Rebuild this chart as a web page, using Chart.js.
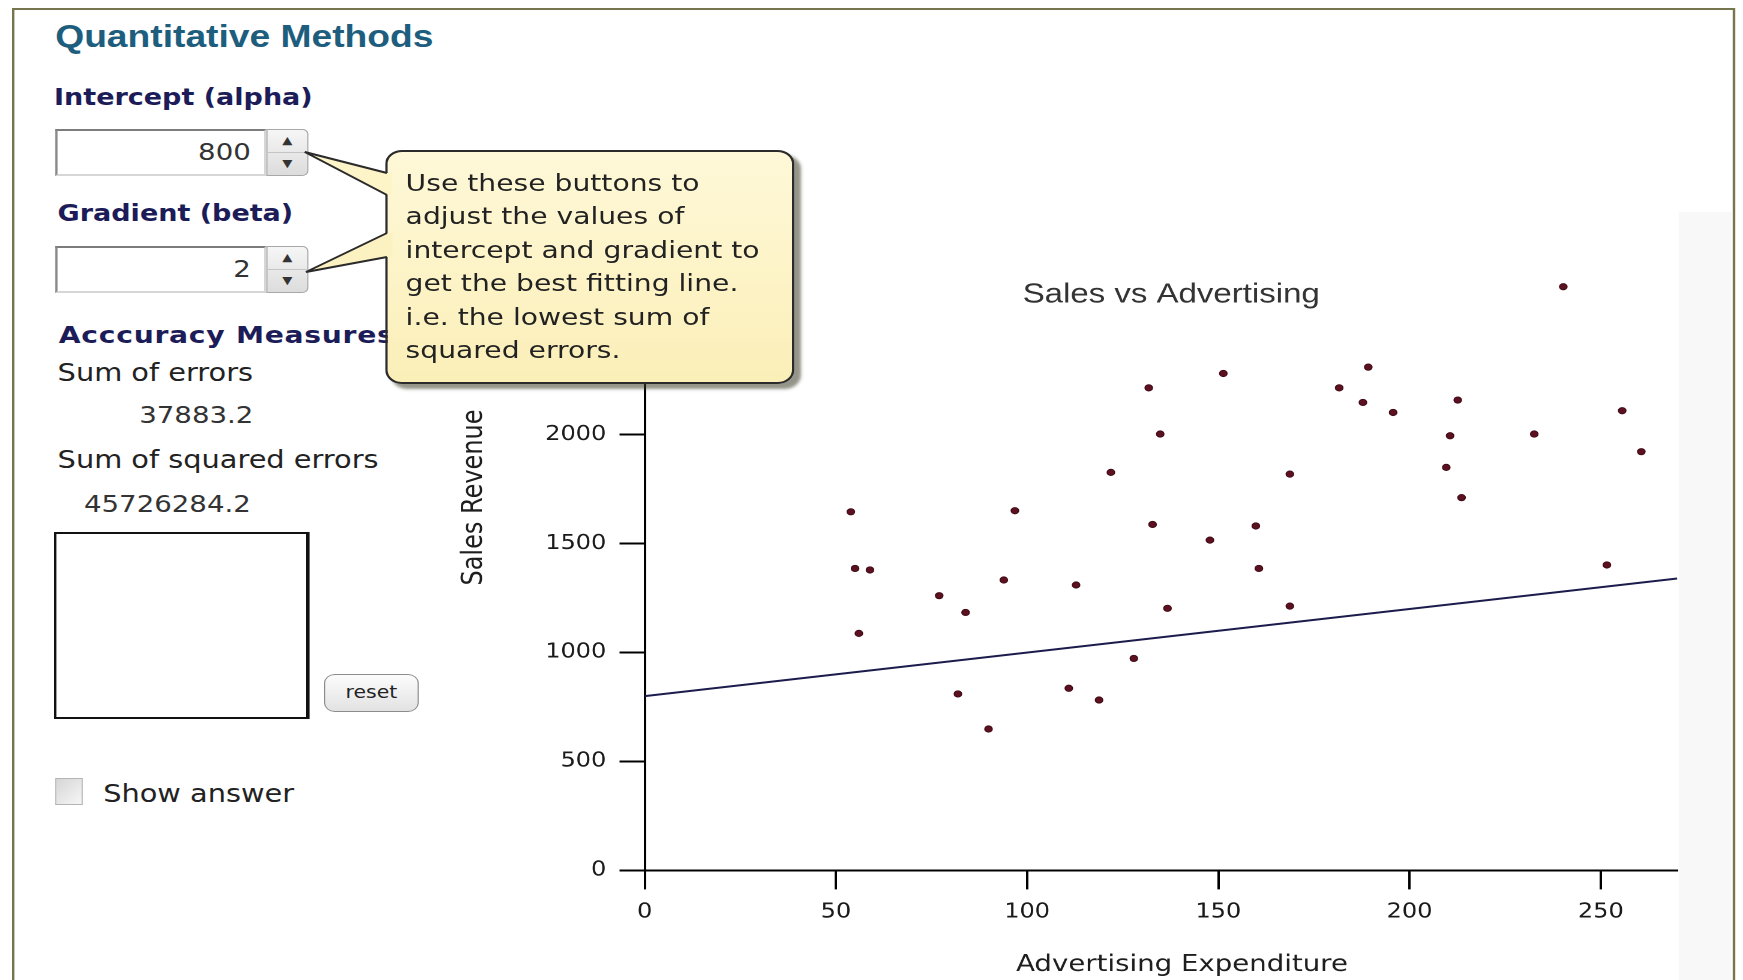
<!DOCTYPE html>
<html>
<head>
<meta charset="utf-8">
<title>Quantitative Methods - Sales vs Advertising</title>
<script src="https://cdn.jsdelivr.net/npm/chart.js@4.4.1/dist/chart.umd.min.js"></script>
<style>
  html, body { margin: 0; padding: 0; width: 1743px; height: 980px; overflow: hidden; background: #fff; }
  /* the reference is stretched sideways, so the whole page is laid out narrow and widened */
  #page { position: absolute; left: 0; top: 0; width: 1453px; height: 980px;
          transform: scaleX(1.2); transform-origin: 0 0;
          font-family: 'DejaVu Sans', sans-serif; color: #222; }
  .frame { position: absolute; left: 10px; top: 8px; width: 1432px; height: 1000px;
           border: 2px solid #76764e; background: #fff; }
  .band { position: absolute; left: 1399px; top: 212px; width: 44px; height: 780px; background: #f8f8f8; }
  .txt { position: absolute; white-space: nowrap; height: 40px; line-height: 40px; }
  .head { font-family: 'Liberation Sans', Arial, sans-serif; font-weight: bold; font-size: 31px; color: #1d5e7e; }
  .label { font-weight: bold; font-size: 22.5px; color: #1c1c58; }
  .plain { font-size: 24px; color: #222; }
  .num { font-size: 23px; color: #333; }
  .inp { position: absolute; left: 46px; width: 176px; height: 47px; box-sizing: border-box;
         border: 2px solid #d6d6d6; border-top-color: #7c7c7c; border-left-color: #8a8a8a;
         background: #fff; text-align: right; padding-right: 11px; font-size: 23px;
         line-height: 43px; color: #333; }
  .spin { position: absolute; left: 222px; width: 35px; height: 47px; box-sizing: border-box;
          border: 1px solid #a8a8a8; border-radius: 0 5px 5px 0;
          background: linear-gradient(#f6f6f6, #dcdcdc); font-size: 11px; color: #333; text-align: center; }
  .spin div { height: 22px; line-height: 22px; }
  .spin div:first-child { border-bottom: 1px solid #c4c4c4; }
  .box { position: absolute; left: 45px; top: 532px; width: 213px; height: 187px; box-sizing: border-box;
         border: 2px solid #111; border-right-width: 3px; background: #fff; }
  .reset { position: absolute; left: 270px; top: 674px; width: 79px; height: 38px; box-sizing: border-box;
           border: 1.5px solid #8c8c8c; border-radius: 9px; background: linear-gradient(#fcfcfc, #e2e2e2);
           font-size: 17px; line-height: 35px; text-align: center; color: #222; }
  .check { position: absolute; left: 46px; top: 778px; width: 23px; height: 27px; box-sizing: border-box;
           border: 1.5px solid #b4b4b4; background: linear-gradient(135deg, #d6d6d6, #f6f6f6); }
  #chartWrap { position: absolute; left: 300px; top: 250px; width: 1108px; height: 730px; }
  .callout { position: absolute; left: 321px; top: 150px; width: 341px; height: 234px; box-sizing: border-box;
             border: 2px solid #2b2b2b; border-radius: 14px;
             background: linear-gradient(#fef8d8, #fbefb8);
             box-shadow: 5px 5px 3px rgba(60, 60, 40, 0.55);
             padding: 15px 0 0 15px; font-size: 23.5px; line-height: 33.4px; color: #222; white-space: nowrap; }
  .pointer { position: absolute; left: 0; top: 0; }
</style>
</head>
<body>
<div id="page">
  <div class="frame"></div>
  <div class="band"></div>

  <div class="txt head" style="left:46px; top:17px;">Quantitative Methods</div>
  <div class="txt label" style="left:45px; top:77px;">Intercept (alpha)</div>
  <div class="inp" style="top:129px;">800</div>
  <div class="spin" style="top:129px;"><div>&#9650;</div><div>&#9660;</div></div>
  <div class="txt label" style="left:48px; top:193px;">Gradient (beta)</div>
  <div class="inp" style="top:246px;">2</div>
  <div class="spin" style="top:246px;"><div>&#9650;</div><div>&#9660;</div></div>
  <div class="txt label" style="left:49px; top:315px; font-size:23.5px; letter-spacing:0.6px;">Acccuracy Measures</div>
  <div class="txt plain" style="left:48px; top:353px;">Sum of errors</div>
  <div class="txt num" style="left:116px; top:395px;">37883.2</div>
  <div class="txt plain" style="left:48px; top:440px;">Sum of squared errors</div>
  <div class="txt num" style="left:70px; top:484px;">45726284.2</div>
  <div class="box"></div>
  <div class="reset">reset</div>
  <div class="check"></div>
  <div class="txt plain" style="left:86px; top:774px;">Show answer</div>

  <div id="chartWrap"><canvas id="salesChart" width="1108" height="730"></canvas></div>

  <div class="callout">Use these buttons to<br>adjust the values of<br>intercept and gradient to<br>get the best fitting line.<br>i.e. the lowest sum of<br>squared errors.</div>
  <svg class="pointer" width="340" height="300" viewBox="0 0 340 300">
    <polygon points="254,152 322.5,173 327,173 327,195 322.5,195" fill="#fdf4c8"/>
    <polyline points="322.5,173 254,152 322.5,195" fill="none" stroke="#2b2b2b" stroke-width="2"/>
    <polygon points="255,272 322.5,233 327,233 327,257 322.5,257" fill="#fcf1c0"/>
    <polyline points="322.5,233 255,272 322.5,257" fill="none" stroke="#2b2b2b" stroke-width="2"/>
  </svg>
</div>

<script>
// advertising spend and sales revenue
const adSpend = [53.9, 55.0, 58.9, 56.0, 77.0, 83.9, 81.9, 89.9, 93.9, 96.8,
                 110.9, 112.8, 118.8, 121.9, 127.9, 131.8, 134.8, 132.8, 136.7, 147.8,
                 151.3, 159.8, 160.6, 168.7, 168.7, 181.6, 187.8, 189.2, 195.7, 209.6,
                 210.6, 212.6, 213.6, 232.6, 240.2, 251.6, 255.6, 260.6];
const salesRevenue = [1646, 1386, 1379, 1088, 1261, 1184, 810, 649, 1333, 1651,
                      836, 1310, 782, 1827, 973, 2215, 2003, 1588, 1203, 1516,
                      2281, 1581, 1386, 1819, 1213, 2215, 2148, 2310, 2102, 1850,
                      1995, 2159, 1711, 2003, 2679, 1402, 2110, 1922];

// current fitted line (alpha 800, beta 2) across the axis
const fitX = [0, 270];
const fitY = [800, 1340];

const xTicks = [0, 50, 100, 150, 200, 250];
const yTicks = [0, 500, 1000, 1500, 2000, 2500];

const chartTitle = 'Sales vs Advertising';
const xTitle = 'Advertising Expenditure';
const yTitle = 'Sales Revenue';

const FONT = "'DejaVu Sans', sans-serif";
Chart.defaults.font.family = FONT;

// titles sit at fixed spots in the original, not centred on the axes
const titlesPlugin = {
    id: 'titles',
    afterDraw(chart) {
        const ctx = chart.ctx;
        ctx.save();
        ctx.textAlign = 'center';
        ctx.textBaseline = 'middle';
        ctx.fillStyle = '#333';
        ctx.font = "27.5px 'Liberation Sans', Arial, sans-serif";
        ctx.fillText(chartTitle, 676, 45);
        ctx.fillStyle = '#1e1e1e';
        ctx.font = '23px ' + FONT;
        ctx.fillText(xTitle, 685, 715);
        ctx.translate(95.5, 247.5);
        ctx.rotate(-Math.PI / 2);
        ctx.font = '24px ' + FONT;
        ctx.fillText(yTitle, 0, 0);
        ctx.restore();
    }
};

const axisLook = (tickLength) => ({
    border: { display: true, color: '#000', width: 2 },
    grid: { display: true, drawOnChartArea: false, drawTicks: true, tickLength: tickLength, color: '#000', lineWidth: 2 }
});

new Chart(document.getElementById('salesChart'), {
    type: 'scatter',
    data: {
        datasets: [
            {
                label: 'Fitted line',
                data: fitX.map((x, i) => ({ x: x, y: fitY[i] })),
                showLine: true,
                borderColor: '#1c1c4c',
                borderWidth: 2,
                pointRadius: 0,
                fill: false
            },
            {
                label: 'Sales',
                data: adSpend.map((x, i) => ({ x: x, y: salesRevenue[i] })),
                pointRadius: 3.2,
                pointBackgroundColor: '#5c1020',
                pointBorderColor: '#3c0a14',
                pointBorderWidth: 0.8
            }
        ]
    },
    options: {
        responsive: false,
        animation: false,
        devicePixelRatio: 2,
        events: [],
        layout: { padding: { top: 10.4, right: 10.3, left: 0, bottom: 0 } },
        plugins: {
            legend: { display: false },
            tooltip: { enabled: false }
        },
        scales: {
            x: {
                type: 'linear',
                min: 0,
                max: 270,
                afterBuildTicks: (scale) => { scale.ticks = xTicks.map(v => ({ value: v })); },
                afterFit: (scale) => {
                    scale.height = 109.6;
                    scale.paddingLeft = 0;
                    scale.paddingRight = 0;
                },
                ...axisLook(19),
                ticks: {
                    autoSkip: false,
                    maxRotation: 0,
                    padding: 11,
                    color: '#1a1a1a',
                    font: { size: 20 },
                    callback: (v) => String(v)
                }
            },
            y: {
                type: 'linear',
                min: 0,
                max: 2800,
                afterBuildTicks: (scale) => { scale.ticks = yTicks.map(v => ({ value: v })); },
                afterFit: (scale) => {
                    scale.width = 237.25;
                    scale.paddingTop = 0;
                    scale.paddingBottom = 0;
                },
                ...axisLook(21),
                ticks: {
                    autoSkip: false,
                    padding: 11,
                    color: '#1a1a1a',
                    font: { size: 20 },
                    callback: (v) => String(v)
                }
            }
        }
    },
    plugins: [titlesPlugin]
});
</script>
</body>
</html>
